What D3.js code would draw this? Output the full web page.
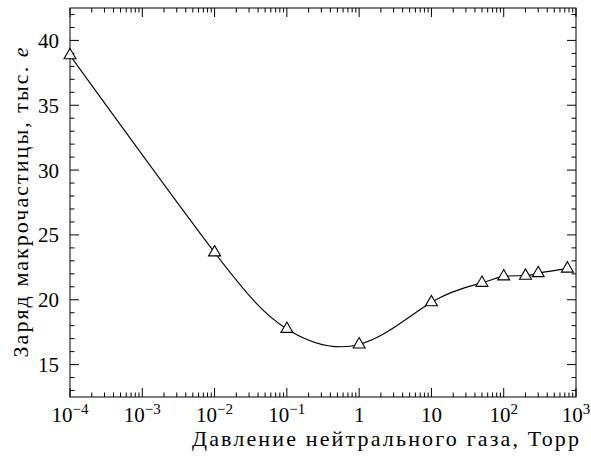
<!DOCTYPE html>
<html>
<head>
<meta charset="utf-8">
<script src="https://cdn.jsdelivr.net/npm/d3@7"></script>
<style>
  body { margin: 0; background: #fff; }
</style>
</head>
<body>
<div id="chart"></div>
<script>
// pressure, Torr
const pressure = [1e-4, 1e-2, 1e-1, 1, 10, 50, 100, 200, 300, 760];
// particle charge, thousands of e
const charge = [38.85, 23.65, 17.75, 16.55, 19.8, 21.3, 21.8, 21.85, 22.05, 22.4];

const xDecades = [1e-4, 1e-3, 1e-2, 1e-1, 1, 10, 100, 1000];
const xTickBase = ['10', '10', '10', '10', '1', '10', '10', '10'];
const xTickExp = ['\u22124', '\u22123', '\u22122', '\u22121', '', '', '2', '3'];
const yMajor = [15, 20, 25, 30, 35, 40];

const width = 591, height = 457;
const margin = {top: 8, right: 15, bottom: 60, left: 70};
const innerW = width - margin.left - margin.right,
      innerH = height - margin.top - margin.bottom;
const serif = "'Liberation Serif', 'DejaVu Serif', 'Times New Roman', serif";

const svg = d3.select('#chart').append('svg')
    .attr('width', width).attr('height', height)
    .attr('font-family', serif)
    .style('font-family', serif);

const g = svg.append('g')
    .attr('transform', `translate(${margin.left},${margin.top})`);

const x = d3.scaleLog().domain([1e-4, 1e3]).range([0, innerW]);
const y = d3.scaleLinear().domain([12.5, 42.5]).range([innerH, 0]);

// minor ticks: 2..9 within each decade, 1-unit steps on y
const xMinor = [];
xDecades.slice(0, -1).forEach(d => { for (let k = 2; k < 10; k++) xMinor.push(d * k); });
const yMinor = d3.range(13, 43, 1).filter(v => v % 5 !== 0);

const major = 9, minor = 4.5;
const tickG = g.append('g').attr('stroke', '#000').attr('stroke-width', 1);

// bottom & top
[[innerH, -1], [0, 1]].forEach(([y0, dir]) => {
  tickG.selectAll(null).data(xDecades).join('line')
      .attr('x1', d => x(d)).attr('x2', d => x(d))
      .attr('y1', y0).attr('y2', y0 + dir * major);
  tickG.selectAll(null).data(xMinor).join('line')
      .attr('x1', d => x(d)).attr('x2', d => x(d))
      .attr('y1', y0).attr('y2', y0 + dir * minor);
});
// left & right
[[0, 1], [innerW, -1]].forEach(([x0, dir]) => {
  tickG.selectAll(null).data(yMajor).join('line')
      .attr('y1', d => y(d)).attr('y2', d => y(d))
      .attr('x1', x0).attr('x2', x0 + dir * major);
  tickG.selectAll(null).data(yMinor).join('line')
      .attr('y1', d => y(d)).attr('y2', d => y(d))
      .attr('x1', x0).attr('x2', x0 + dir * minor);
});

// frame
g.append('rect')
    .attr('width', innerW).attr('height', innerH)
    .attr('fill', 'none').attr('stroke', '#000').attr('stroke-width', 1);

// y tick labels
g.append('g').selectAll('text').data(yMajor).join('text')
    .attr('x', -11).attr('y', d => y(d)).attr('dy', '0.36em')
    .attr('text-anchor', 'end').style('font-size', '21px')
    .text(d => d);

// x tick labels
const xl = g.append('g').selectAll('text').data(xDecades).join('text')
    .attr('x', d => x(d)).attr('y', innerH + 25)
    .attr('text-anchor', 'middle').style('font-size', '21px');
xl.append('tspan').text((d, i) => xTickBase[i]);
xl.append('tspan')
    .attr('dy', '-0.55em').style('font-size', '15px')
    .text((d, i) => xTickExp[i]);

// curve through the points
const line = d3.line()
    .x((d, i) => x(pressure[i]))
    .y(d => y(d))
    .curve(d3.curveNatural);

g.append('path')
    .datum(charge)
    .attr('d', line)
    .attr('fill', 'none').attr('stroke', '#000').attr('stroke-width', 1.1);

g.append('g').selectAll('path').data(charge).join('path')
    .attr('d', d3.symbol(d3.symbolTriangle, 62))
    .attr('transform', (d, i) => `translate(${x(pressure[i])},${y(d)})`)
    .attr('fill', '#fff').attr('stroke', '#000').attr('stroke-width', 1.1);

// axis labels
svg.append('text')
    .attr('x', 579).attr('y', 446)
    .attr('text-anchor', 'end').style('font-size', '22px')
    .attr('textLength', 387).attr('lengthAdjust', 'spacing')
    .text('Давление нейтрального газа, Торр');

const yl = svg.append('text')
    .attr('transform', `translate(28,${margin.top + innerH / 2})rotate(-90)`)
    .attr('text-anchor', 'middle').style('font-size', '22px')
    .attr('textLength', 310).attr('lengthAdjust', 'spacing');
yl.append('tspan').text('Заряд макрочастицы, тыс. ');
yl.append('tspan').style('font-style', 'italic').text('e');
</script>
</body>
</html>
